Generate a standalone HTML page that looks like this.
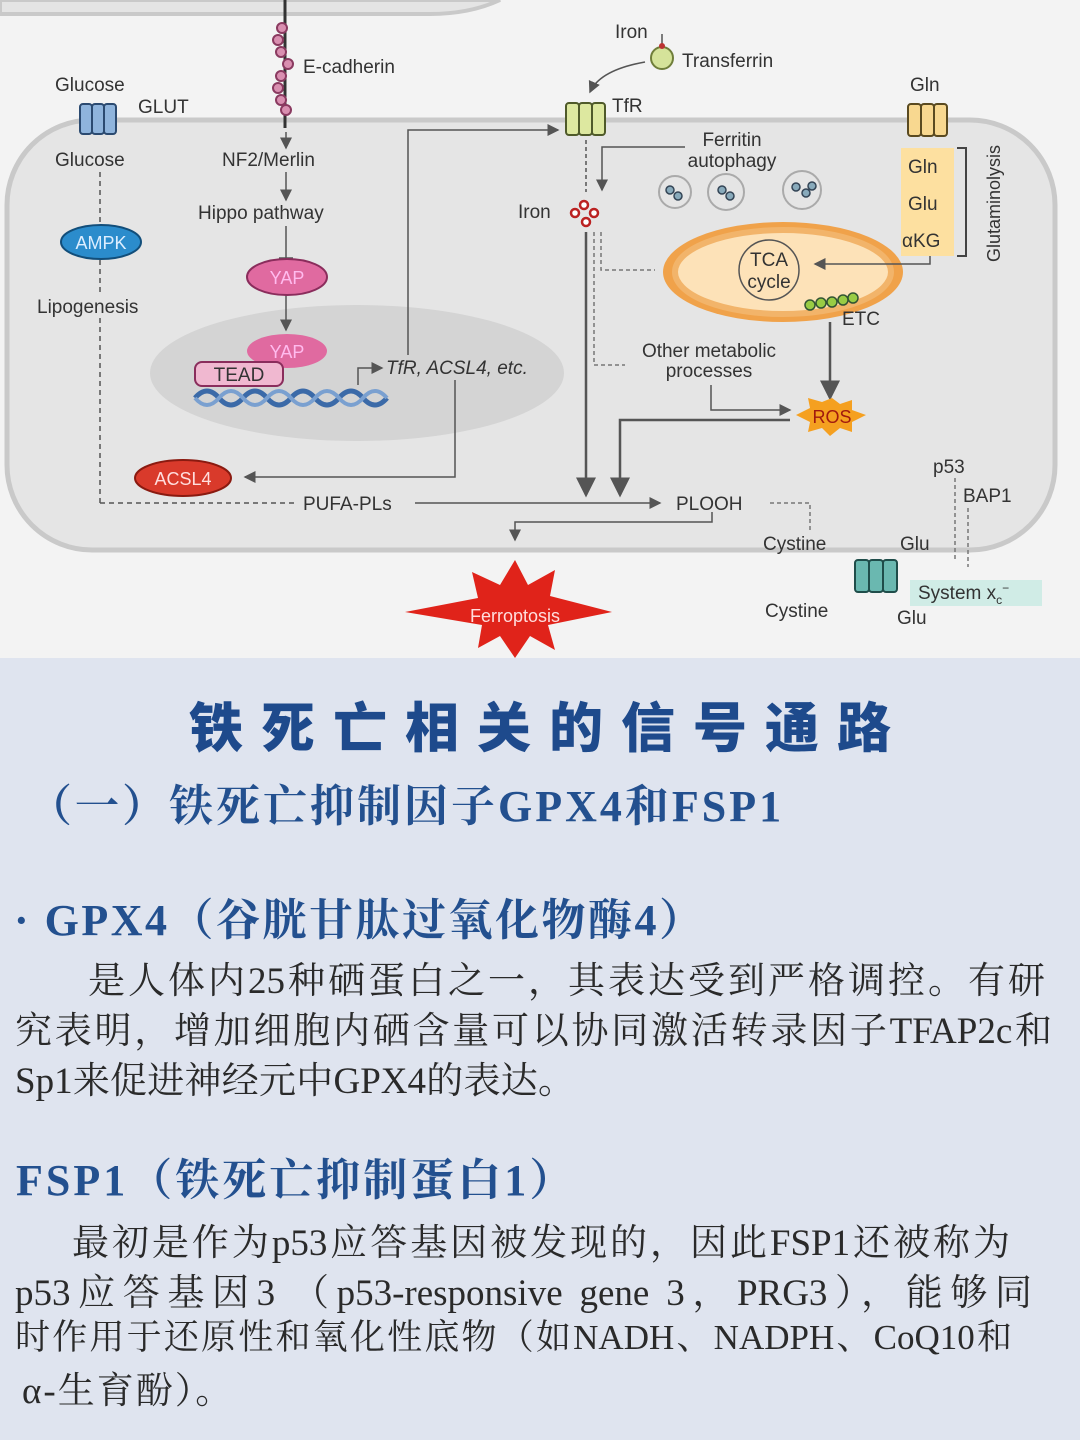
<!DOCTYPE html>
<html><head><meta charset="utf-8"><style>
html,body{margin:0;padding:0;width:1080px;height:1440px;overflow:hidden;background:#dfe4ef}
.top{position:absolute;left:0;top:0;width:1080px;height:658px;background:#f3f3f3}
.t{position:absolute;white-space:nowrap}
.b{font-family:"Liberation Serif","Noto Serif CJK SC",serif;font-weight:bold;color:#23508f}
.p{font-family:"Liberation Serif","Noto Serif CJK SC",serif;color:#2a2a2a;font-size:37px;left:15px;text-align:justify;text-align-last:justify;white-space:nowrap}
</style></head><body>
<div class="top">
<svg width="1080" height="658" viewBox="0 0 1080 658" font-family="Liberation Sans, sans-serif" font-size="19" fill="#333">
<defs><marker id="a" markerWidth="8" markerHeight="8" refX="7" refY="4" orient="auto"><path d="M0,0L8,4L0,8z" fill="#555"/></marker></defs>
<path d="M0,0 H500 Q470,14 430,14 H0z" fill="#e4e4e4" stroke="#c9c9c9" stroke-width="4"/>
<rect x="7" y="120" width="1048" height="430" rx="85" fill="#e5e5e5" stroke="#c9c9c9" stroke-width="5"/>
<ellipse cx="357" cy="373" rx="207" ry="68" fill="#d4d4d4"/>
<line x1="285" y1="0" x2="285" y2="128" stroke="#333" stroke-width="3"/>
<g fill="#d98fb0" stroke="#8a3a60" stroke-width="2">
<circle cx="282" cy="28" r="5"/><circle cx="278" cy="40" r="5"/><circle cx="281" cy="52" r="5"/><circle cx="288" cy="64" r="5"/><circle cx="281" cy="76" r="5"/><circle cx="278" cy="88" r="5"/><circle cx="281" cy="100" r="5"/><circle cx="286" cy="110" r="5"/></g>
<text x="303" y="73">E-cadherin</text>
<text x="222" y="166">NF2/Merlin</text>
<text x="198" y="219">Hippo pathway</text>
<g stroke="#555" stroke-width="1.5" fill="none"><line x1="286" y1="132" x2="286" y2="148" marker-end="url(#a)"/><line x1="286" y1="172" x2="286" y2="200" marker-end="url(#a)"/><line x1="286" y1="226" x2="286" y2="258"/><line x1="279" y1="258" x2="293" y2="258"/><line x1="286" y1="295" x2="286" y2="330" marker-end="url(#a)"/></g>
<ellipse cx="287" cy="277" rx="40" ry="18" fill="#e06aa0" stroke="#8a2d5c" stroke-width="2"/><text x="287" y="284" text-anchor="middle" fill="#fbe" font-size="18">YAP</text>
<ellipse cx="287" cy="351" rx="40" ry="17" fill="#e06aa0"/><text x="287" y="358" text-anchor="middle" fill="#fbe" font-size="18">YAP</text>
<rect x="195" y="362" width="88" height="24" rx="7" fill="#f0b8d0" stroke="#8a2d5c" stroke-width="2"/><text x="239" y="381" text-anchor="middle">TEAD</text>
<path d="M195,398 q12,-14 24,0 t24,0 t24,0 t24,0 t24,0 t24,0 t24,0 t24,0" stroke="#3b6aa8" stroke-width="5" fill="none"/>
<path d="M195,398 q12,14 24,0 t24,0 t24,0 t24,0 t24,0 t24,0 t24,0 t24,0" stroke="#7aa0d0" stroke-width="4" fill="none"/>
<path d="M358,385 V368 H382" stroke="#555" stroke-width="1.5" fill="none" marker-end="url(#a)"/>
<text x="386" y="374" font-style="italic">TfR, ACSL4, etc.</text>
<path d="M408,355 V130 H558" stroke="#555" stroke-width="1.5" fill="none" marker-end="url(#a)"/>
<path d="M455,380 V477 H245" stroke="#555" stroke-width="1.5" fill="none" marker-end="url(#a)"/>
<ellipse cx="183" cy="478" rx="48" ry="18" fill="#d93a2b" stroke="#8a1a10" stroke-width="2"/><text x="183" y="485" text-anchor="middle" fill="#fdd" font-size="18">ACSL4</text>
<text x="55" y="91">Glucose</text><text x="138" y="113">GLUT</text>
<g fill="#8fb4dc" stroke="#2b4a70" stroke-width="2"><rect x="80" y="104" width="12" height="30" rx="3"/><rect x="92" y="104" width="12" height="30" rx="3"/><rect x="104" y="104" width="12" height="30" rx="3"/></g>
<text x="55" y="166">Glucose</text>
<g stroke="#555" stroke-width="1.5" stroke-dasharray="5,4" fill="none"><line x1="100" y1="172" x2="100" y2="222"/><line x1="100" y1="260" x2="100" y2="292"/><line x1="100" y1="318" x2="100" y2="503"/><path d="M100,503 H298"/></g>
<ellipse cx="101" cy="242" rx="40" ry="17" fill="#2b8ccc" stroke="#124e7a" stroke-width="2"/><text x="101" y="249" text-anchor="middle" fill="#def" font-size="18">AMPK</text>
<text x="37" y="313">Lipogenesis</text>
<text x="303" y="510">PUFA-PLs</text>
<line x1="415" y1="503" x2="660" y2="503" stroke="#555" stroke-width="1.5" marker-end="url(#a)"/>
<text x="676" y="510">PLOOH</text>
<text x="615" y="38">Iron</text><line x1="662" y1="34" x2="662" y2="50" stroke="#555" stroke-width="1.5"/>
<circle cx="662" cy="58" r="11" fill="#d5e39a" stroke="#6f7e3a" stroke-width="2"/><circle cx="662" cy="46" r="3" fill="#b33"/>
<text x="682" y="67">Transferrin</text>
<path d="M645,62 Q600,70 590,92" stroke="#555" stroke-width="1.5" fill="none" marker-end="url(#a)"/>
<g fill="#dde8a0" stroke="#4f5a2a" stroke-width="2"><rect x="566" y="103" width="13" height="32" rx="3"/><rect x="579" y="103" width="13" height="32" rx="3"/><rect x="592" y="103" width="13" height="32" rx="3"/></g>
<text x="612" y="112">TfR</text>
<text x="732" y="146" text-anchor="middle">Ferritin</text><text x="732" y="167" text-anchor="middle">autophagy</text>
<path d="M685,147 H602 V190" stroke="#555" stroke-width="1.5" fill="none" marker-end="url(#a)"/>
<line x1="586" y1="140" x2="586" y2="192" stroke="#555" stroke-width="1.5" stroke-dasharray="4,3"/>
<g fill="none" stroke="#aaa" stroke-width="2"><circle cx="675" cy="192" r="16"/><circle cx="726" cy="192" r="18"/><circle cx="802" cy="190" r="19"/></g>
<g fill="#8ab" stroke="#345" stroke-width="1.5"><circle cx="670" cy="190" r="4"/><circle cx="678" cy="196" r="4"/><circle cx="722" cy="190" r="4"/><circle cx="730" cy="196" r="4"/><circle cx="796" cy="187" r="4"/><circle cx="806" cy="193" r="4"/><circle cx="812" cy="186" r="4"/></g>
<text x="518" y="218">Iron</text>
<g fill="#fff" stroke="#b22" stroke-width="2.5"><circle cx="584" cy="205" r="4"/><circle cx="575" cy="213" r="4"/><circle cx="594" cy="213" r="4"/><circle cx="586" cy="222" r="4"/></g>
<line x1="586" y1="232" x2="586" y2="495" stroke="#555" stroke-width="2.5" marker-end="url(#a)"/>
<g stroke="#777" stroke-width="1.5" stroke-dasharray="4,3" fill="none"><path d="M594,232 V365 H625"/><path d="M601,232 V270 H655"/></g>
<ellipse cx="783" cy="272" rx="120" ry="50" fill="#f0a24a"/><ellipse cx="783" cy="272" rx="108" ry="42" fill="#fde2b8" stroke="#f2b46a" stroke-width="6"/>
<circle cx="769" cy="270" r="30" fill="none" stroke="#555" stroke-width="1.5"/>
<text x="769" y="266" text-anchor="middle">TCA</text><text x="769" y="288" text-anchor="middle">cycle</text>
<g fill="#9c4" stroke="#353" stroke-width="1.5"><circle cx="810" cy="305" r="5"/><circle cx="821" cy="303" r="5"/><circle cx="832" cy="302" r="5"/><circle cx="843" cy="300" r="5"/><circle cx="853" cy="298" r="5"/></g>
<text x="842" y="325">ETC</text>
<line x1="830" y1="322" x2="830" y2="398" stroke="#555" stroke-width="2.5" marker-end="url(#a)"/>
<text x="709" y="357" text-anchor="middle">Other metabolic</text><text x="709" y="377" text-anchor="middle">processes</text>
<path d="M711,385 V410 H790" stroke="#555" stroke-width="1.5" fill="none" marker-end="url(#a)"/>
<polygon points="832,398 840,404 852,400 852,410 866,415 852,422 852,432 840,428 830,436 822,428 808,432 810,422 796,415 810,408 808,398 822,402" fill="#f5a020"/>
<text x="832" y="423" text-anchor="middle" fill="#a1190e" font-size="18">ROS</text>
<path d="M790,420 H620 V495" stroke="#555" stroke-width="2.5" fill="none" marker-end="url(#a)"/>
<text x="910" y="91">Gln</text>
<rect x="901" y="148" width="53" height="108" fill="#fde0a0"/>
<g fill="#f8d890" stroke="#5a4a20" stroke-width="2"><rect x="908" y="104" width="13" height="32" rx="3"/><rect x="921" y="104" width="13" height="32" rx="3"/><rect x="934" y="104" width="13" height="32" rx="3"/></g>
<text x="908" y="173">Gln</text><text x="908" y="210">Glu</text><text x="902" y="247">αKG</text>
<path d="M957,148 H966 V256 H957" stroke="#444" stroke-width="2" fill="none"/>
<text transform="translate(1000,262) rotate(-90)" font-size="18">Glutaminolysis</text>
<path d="M930,256 V264 H815" stroke="#555" stroke-width="1.5" fill="none" marker-end="url(#a)"/>
<text x="933" y="473">p53</text><text x="963" y="502">BAP1</text>
<g stroke="#777" stroke-width="1.5" stroke-dasharray="4,3" fill="none"><line x1="955" y1="478" x2="955" y2="560"/><line x1="968" y1="508" x2="968" y2="567"/><path d="M770,503 H810 V530"/></g>
<text x="763" y="550">Cystine</text><text x="900" y="550">Glu</text><text x="765" y="617">Cystine</text><text x="897" y="624">Glu</text>
<g fill="#6ab8b0" stroke="#1f4d4a" stroke-width="2"><rect x="855" y="560" width="14" height="32" rx="3"/><rect x="869" y="560" width="14" height="32" rx="3"/><rect x="883" y="560" width="14" height="32" rx="3"/></g>
<rect x="910" y="580" width="132" height="26" fill="#d0ece6"/><text x="918" y="599">System x<tspan font-size="12" dy="5">c</tspan><tspan font-size="12" dy="-12">−</tspan></text>
<path d="M712,512 V522 H515 V540" stroke="#555" stroke-width="1.5" fill="none" marker-end="url(#a)"/>
<polygon points="515,560 528,585 555,570 550,596 612,612 548,625 555,650 530,636 515,658 500,636 478,648 482,625 405,612 478,598 472,572 500,585" fill="#e0231a"/>
<text x="515" y="622" text-anchor="middle" fill="#fdd" font-size="18">Ferroptosis</text>
</svg>
</div>
<div class="t b" style="left:0;width:1080px;text-align:center;top:684px;font-size:54px;letter-spacing:18px;text-indent:18px;font-family:'Noto Sans CJK SC',sans-serif;font-weight:900;color:#1e4a8c">铁死亡相关的信号通路</div>
<div class="t b" style="left:28px;top:770px;font-size:44px;letter-spacing:3px">（一）铁死亡抑制因子GPX4和FSP1</div>
<div class="t b" style="left:14px;top:884px;font-size:44px;letter-spacing:2.5px">· GPX4（谷胱甘肽过氧化物酶4）</div>
<div class="t p" style="left:88px;width:957px;top:950px">是人体内25种硒蛋白之一，其表达受到严格调控。有研</div>
<div class="t p" style="width:1037px;top:1000px">究表明，增加细胞内硒含量可以协同激活转录因子TFAP2c和</div>
<div class="t p" style="width:560px;top:1050px">Sp1来促进神经元中GPX4的表达。</div>
<div class="t b" style="left:16px;top:1144px;font-size:44px;letter-spacing:3px">FSP1（铁死亡抑制蛋白1）</div>
<div class="t p" style="left:72px;width:938px;top:1212px">最初是作为p53应答基因被发现的，因此FSP1还被称为</div>
<div class="t p" style="width:1017px;top:1262px">p53应答基因3 （p53-responsive gene 3，PRG3），能够同</div>
<div class="t p" style="width:997px;top:1310px;font-size:35px">时作用于还原性和氧化性底物（如NADH、NADPH、CoQ10和</div>
<div class="t p" style="left:22px;top:1360px;text-align:left;text-align-last:left;letter-spacing:2px">α-生育酚）。</div>
</body></html>
